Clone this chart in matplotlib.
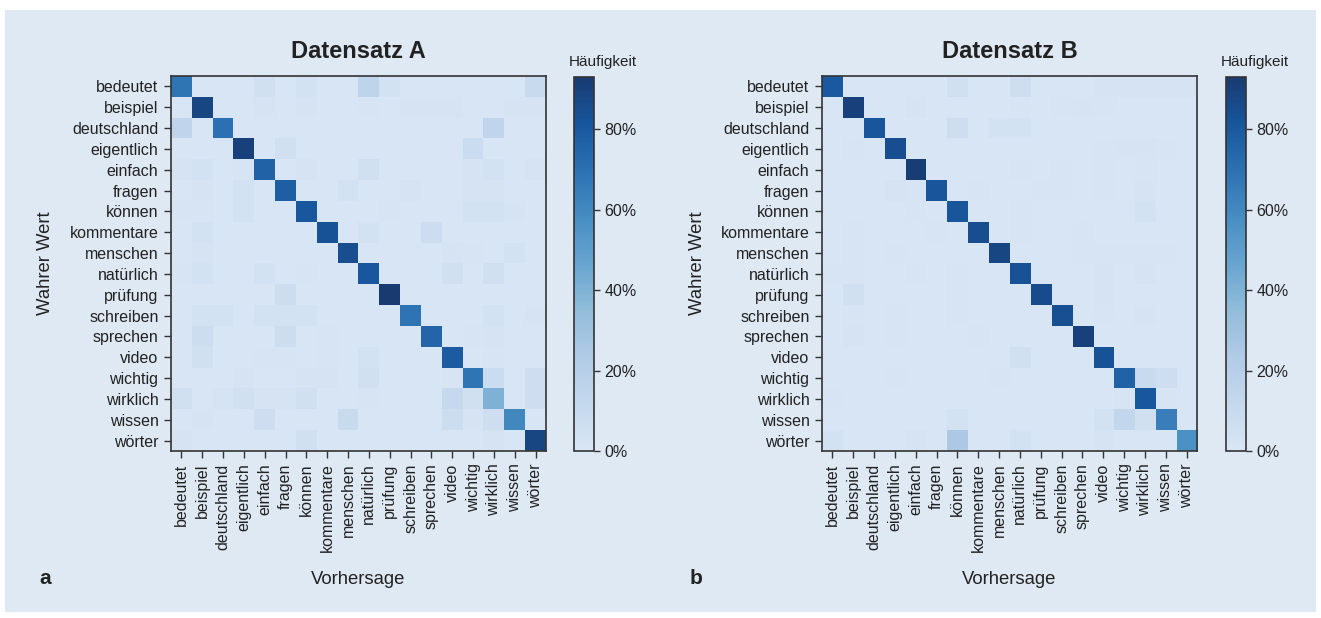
import numpy as np
import matplotlib
matplotlib.use("Agg")
import matplotlib.pyplot as plt
from matplotlib.colors import ListedColormap
from matplotlib.patches import Rectangle

plt.rcParams['font.family'] = ['Liberation Sans', 'DejaVu Sans']

labels = ["bedeutet", "beispiel", "deutschland", "eigentlich", "einfach", "fragen",
          "können", "kommentare", "menschen", "natürlich", "prüfung", "schreiben",
          "sprechen", "video", "wichtig", "wirklich", "wissen", "wörter"]

diag_a = [68, 88, 70, 90, 76, 78, 81, 83, 85, 81, 93, 69, 75, 79, 68, 40, 60, 88]
diag_b = [80, 90, 82, 85, 92, 82, 82, 85, 88, 83, 86, 84, 90, 83, 76, 81, 64, 56]

# off-diagonal entries: (row, col, value in %)
off_a = [
    (0, 4, 4), (0, 6, 3), (0, 9, 15), (0, 10, 3), (0, 17, 10),
    (1, 4, 2), (1, 6, 2), (1, 9, 1), (1, 11, 2), (1, 12, 2), (1, 13, 2), (1, 16, 2), (1, 17, 2),
    (2, 0, 14), (2, 15, 14),
    (3, 5, 4), (3, 14, 8),
    (4, 0, 2), (4, 1, 3), (4, 3, 1), (4, 6, 2), (4, 9, 4), (4, 14, 2), (4, 15, 3), (4, 17, 2),
    (5, 1, 2), (5, 3, 3), (5, 8, 3), (5, 11, 2), (5, 14, 2), (5, 15, 2),
    (6, 0, 1), (6, 1, 1), (6, 3, 3), (6, 10, 1), (6, 14, 3), (6, 15, 3), (6, 16, 2),
    (7, 1, 3), (7, 9, 3), (7, 12, 7),
    (8, 1, 2), (8, 13, 2), (8, 14, 1), (8, 16, 3),
    (9, 0, 1), (9, 1, 3), (9, 4, 3), (9, 6, 1), (9, 13, 5), (9, 15, 4),
    (10, 5, 7),
    (11, 1, 3), (11, 2, 3), (11, 4, 3), (11, 5, 3), (11, 6, 3), (11, 15, 3), (11, 17, 2),
    (12, 1, 7), (12, 5, 7), (12, 7, 1), (12, 14, 1), (12, 15, 2),
    (13, 1, 5), (13, 4, 1), (13, 5, 1), (13, 7, 1), (13, 9, 3), (13, 15, 1),
    (14, 3, 2), (14, 6, 2), (14, 7, 2), (14, 9, 5), (14, 13, 1), (14, 15, 8), (14, 17, 6),
    (15, 0, 5), (15, 2, 2), (15, 3, 4), (15, 4, 2), (15, 5, 2), (15, 6, 4), (15, 9, 1),
    (15, 13, 11), (15, 14, 5), (15, 17, 6),
    (16, 1, 2), (16, 4, 6), (16, 8, 10), (16, 13, 7), (16, 14, 2), (16, 15, 6),
    (17, 0, 2), (17, 6, 4), (17, 15, 2),
]

off_b = [
    (0, 6, 4), (0, 9, 6), (0, 13, 2), (0, 14, 2), (0, 15, 2), (0, 16, 2), (0, 17, 2),
    (1, 4, 2), (1, 9, 1), (1, 11, 1), (1, 12, 2), (1, 13, 1),
    (2, 6, 6), (2, 8, 3), (2, 9, 3),
    (3, 1, 1), (3, 13, 1), (3, 14, 2), (3, 15, 2), (3, 16, 1),
    (4, 9, 1), (4, 11, 1), (4, 13, 1), (4, 15, 1),
    (5, 3, 2), (5, 4, 1), (5, 7, 1), (5, 10, 1), (5, 11, 1), (5, 13, 1), (5, 15, 2),
    (6, 4, 1), (6, 9, 1), (6, 15, 3),
    (7, 1, 1), (7, 5, 1), (7, 9, 1), (7, 12, 1),
    (8, 1, 1), (8, 3, 1), (8, 12, 1), (8, 13, 1), (8, 14, 1), (8, 15, 1), (8, 16, 1),
    (9, 0, 1), (9, 1, 1), (9, 4, 1), (9, 6, 1), (9, 13, 2), (9, 15, 2),
    (10, 1, 4), (10, 6, 1), (10, 13, 2),
    (11, 1, 1), (11, 3, 1), (11, 6, 1), (11, 13, 1), (11, 15, 2),
    (12, 1, 2), (12, 3, 1), (12, 7, 1),
    (13, 9, 4),
    (14, 3, 1), (14, 8, 1), (14, 15, 10), (14, 16, 6),
    (15, 0, 1), (15, 14, 1), (15, 16, 1),
    (16, 6, 3), (16, 13, 3), (16, 14, 13), (16, 15, 5),
    (17, 0, 3), (17, 4, 2), (17, 6, 25), (17, 9, 3), (17, 13, 2),
]

vmax = 93
bg = np.array([0xdf, 0xe9, 0xf4]) / 255.0


def build(diag, off):
    n = len(labels)
    m = np.zeros((n, n))
    for i, v in enumerate(diag):
        m[i, i] = v
    for r, c, v in off:
        m[r, c] = v
    return m


mat_a = build(diag_a, off_a)
mat_b = build(diag_b, off_b)

base = plt.get_cmap('Blues')(np.linspace(0, 1, 256))[:, :3]
tinted = base * bg
tinted = 0.92 * tinted + 0.08 * bg
cmap = ListedColormap(tinted)

W, H = 1321, 618
fig = plt.figure(figsize=(W / 100, H / 100), dpi=100, facecolor='white')
fig.patches.append(Rectangle((5 / W, 6 / H), (1316 - 5) / W, (608 - 6) / H,
                             transform=fig.transFigure, facecolor='#dfe9f4',
                             edgecolor='none', zorder=-10))

txt = '#222222'


def fx(px):
    return px / W


def fy(py):
    return 1 - py / H


panels = [
    (mat_a, "Datensatz A", "a", 171, 574),
    (mat_b, "Datensatz B", "b", 822, 1226),
]

for mat, title, letter, x0, cx0 in panels:
    ax = fig.add_axes([fx(x0), fy(451), 375 / W, 375 / H])
    ax.set_facecolor('#dfe9f4')
    im = ax.imshow(mat, cmap=cmap, vmin=0, vmax=vmax, aspect='auto',
                   interpolation='nearest')
    n = len(labels)
    ax.set_xticks(range(n))
    ax.set_yticks(range(n))
    ax.set_xticklabels(labels, rotation=90, fontsize=11.5, color=txt)
    ax.set_yticklabels(labels, fontsize=11.5, color=txt)
    ax.tick_params(length=5, width=1, color='#333333', pad=4)
    for s in ax.spines.values():
        s.set_color('#333333')
        s.set_linewidth(1.2)
    xc = x0 + 187.5
    fig.text(fx(xc), fy(52), title, ha='center', va='center', fontsize=17,
             fontweight='bold', color=txt)
    fig.text(fx(xc), fy(580), "Vorhersage", ha='center', va='center',
             fontsize=13.3, color=txt)
    fig.text(fx(x0 - 125), fy(263), "Wahrer Wert", ha='center', va='center',
             fontsize=13.3, rotation=90, color=txt)
    fig.text(fx(x0 - 126), fy(579), letter, ha='center', va='center',
             fontsize=15, fontweight='bold', color=txt)

    cax = fig.add_axes([fx(cx0), fy(451), 20 / W, 374 / H])
    cb = fig.colorbar(im, cax=cax)
    cb.set_ticks([0, 20, 40, 60, 80])
    cb.set_ticklabels(['0%', '20%', '40%', '60%', '80%'])
    cax.tick_params(labelsize=11.5, length=4, width=1, color='#333333',
                    labelcolor=txt)
    cb.outline.set_edgecolor('#333333')
    cb.outline.set_linewidth(1.2)
    fig.text(fx(cx0 + 29), fy(62), "Häufigkeit", ha='center', va='center',
             fontsize=11, color=txt)

fig.savefig('out.png', dpi=100, facecolor='white')
